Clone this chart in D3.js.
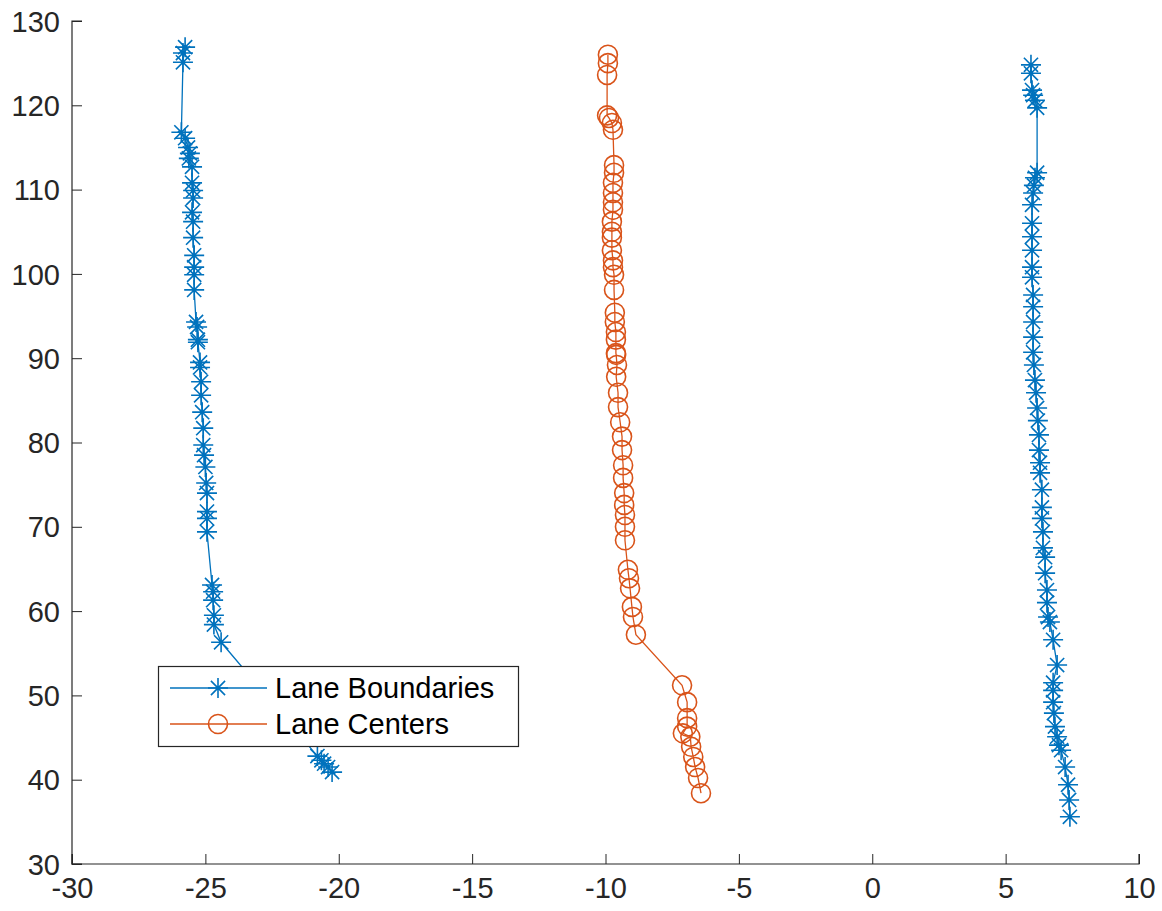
<!DOCTYPE html>
<html>
<head>
<meta charset="utf-8">
<script src="https://cdn.jsdelivr.net/npm/d3@7"></script>
<style>
  html, body { margin: 0; padding: 0; background: #fff; }
  svg { display: block; }
  text { font-family: "Liberation Sans", Arial, sans-serif; }
</style>
</head>
<body>
<svg id="chart" width="1162" height="911"></svg>
<script>
// ---- data ----
const leftBoundaryX = [-25.76, -25.84, -25.84, -25.9, -25.76, -25.65, -25.58, -25.62, -25.5, -25.5, -25.46, -25.46, -25.5, -25.46, -25.46, -25.42, -25.42, -25.42, -25.42, -25.35, -25.31, -25.28, -25.28, -25.2, -25.2, -25.16, -25.16, -25.12, -25.08, -25.08, -25.05, -25.0, -24.97, -24.94, -24.94, -24.94, -24.94, -24.75, -24.71, -24.71, -24.68, -24.68, -24.41, -20.8, -20.65, -20.55, -20.4, -20.25];
const leftBoundaryY = [126.9, 126.2, 125.1, 116.8, 116.1, 115.0, 114.3, 113.7, 112.7, 110.8, 109.9, 109.0, 107.3, 106.2, 104.3, 102.2, 100.8, 99.9, 98.1, 94.3, 93.7, 92.2, 91.9, 89.5, 88.9, 87.2, 85.6, 83.6, 81.7, 79.7, 78.5, 77.1, 75.2, 74.0, 71.8, 71.0, 69.4, 63.1, 62.3, 61.3, 59.5, 58.4, 56.3, 42.8, 42.3, 41.9, 41.5, 40.9];

const rightBoundaryX = [5.95, 5.95, 5.99, 6.03, 6.1, 6.18, 6.18, 6.1, 6.06, 6.03, 5.99, 5.99, 5.99, 5.99, 5.99, 5.99, 6.03, 6.03, 6.03, 6.03, 6.03, 6.06, 6.1, 6.14, 6.18, 6.21, 6.25, 6.25, 6.29, 6.29, 6.36, 6.36, 6.36, 6.4, 6.4, 6.48, 6.48, 6.55, 6.55, 6.59, 6.66, 6.78, 6.93, 6.78, 6.78, 6.78, 6.81, 6.85, 6.93, 7.0, 7.08, 7.23, 7.34, 7.38, 7.41];
const rightBoundaryY = [124.8, 123.8, 121.8, 121.2, 120.6, 119.7, 112.0, 111.4, 110.5, 109.6, 108.2, 106.0, 104.4, 102.8, 100.8, 99.6, 97.5, 96.1, 94.3, 92.5, 90.7, 89.2, 87.4, 85.9, 84.1, 82.6, 80.9, 79.1, 77.6, 76.4, 74.4, 72.3, 71.0, 69.4, 67.5, 66.4, 64.5, 62.5, 61.0, 59.3, 58.7, 56.6, 53.6, 51.5, 50.6, 49.2, 47.9, 46.3, 45.1, 44.1, 43.5, 41.5, 39.4, 37.6, 35.6];

const centerX = [-9.91, -9.91, -9.94, -9.94, -9.87, -9.76, -9.72, -9.68, -9.68, -9.72, -9.72, -9.72, -9.72, -9.76, -9.76, -9.76, -9.76, -9.72, -9.72, -9.68, -9.68, -9.65, -9.65, -9.61, -9.61, -9.61, -9.6, -9.57, -9.6, -9.53, -9.53, -9.45, -9.38, -9.38, -9.34, -9.34, -9.3, -9.3, -9.27, -9.27, -9.27, -9.16, -9.12, -9.08, -9.01, -8.97, -8.86, -7.13, -6.94, -6.94, -6.94, -7.1, -6.82, -6.79, -6.71, -6.64, -6.53, -6.42];
const centerY = [126.0, 125.0, 123.6, 118.8, 118.5, 117.9, 117.1, 112.9, 112.0, 110.8, 109.6, 108.5, 107.6, 106.2, 105.0, 104.3, 102.8, 101.6, 100.8, 99.9, 98.1, 95.4, 94.3, 93.1, 92.2, 90.6, 90.4, 89.2, 87.8, 85.9, 84.2, 82.4, 80.7, 79.1, 77.3, 75.8, 74.0, 72.6, 71.4, 70.0, 68.4, 64.9, 63.9, 62.7, 60.5, 59.3, 57.2, 51.2, 49.2, 47.3, 46.3, 45.5, 45.1, 43.9, 42.7, 41.5, 40.2, 38.4];

const xTicks = [-30, -25, -20, -15, -10, -5, 0, 5, 10];
const yTicks = [30, 40, 50, 60, 70, 80, 90, 100, 110, 120, 130];
const legendLabels = ["Lane Boundaries", "Lane Centers"];

// ---- layout ----
const blue = "#0072BD", orange = "#D95319", axisCol = "#262626";
const L = 72, R = 1139, T = 21, B = 864;
const FONT = "29px";
const svg = d3.select("#chart");
const x = d3.scaleLinear().domain([-30, 10]).range([L, R]);
const y = d3.scaleLinear().domain([30, 130]).range([B, T]);

// axes
const xAxis = d3.axisBottom(x).tickValues(xTicks).tickSize(-10).tickPadding(13).tickFormat(d => String(d));
const yAxis = d3.axisLeft(y).tickValues(yTicks).tickSize(-10).tickPadding(12).tickFormat(d => String(d));
const gx = svg.append("g").attr("transform", `translate(0,${B})`).call(xAxis);
const gy = svg.append("g").attr("transform", `translate(${L},0)`).call(yAxis);
[gx, gy].forEach(g => {
  g.select(".domain").attr("stroke", axisCol).attr("stroke-width", 1.2);
  g.selectAll(".tick line").attr("stroke", axisCol).attr("stroke-width", 1);
  g.selectAll(".tick text").attr("fill", axisCol).style("font-size", FONT)
    .style("font-family", "'Liberation Sans', Arial, sans-serif");
});
gx.selectAll(".tick text").attr("dy", "0.71em");
gy.selectAll(".tick text").attr("dy", "0.35em");
gx.select(".domain").attr("d", `M${L},${-10}V0H${R}V${-10}`);
gy.select(".domain").attr("d", `M10,${T}H0V${B}H10`);

// marker drawers
function star(g, cx, cy, color) {
  const r = 10, d = r * 0.7071;
  g.append("path")
    .attr("d", `M${cx - r},${cy}H${cx + r}M${cx},${cy - r}V${cy + r}M${cx - d},${cy - d}L${cx + d},${cy + d}M${cx - d},${cy + d}L${cx + d},${cy - d}`)
    .attr("stroke", color).attr("stroke-width", 1.6).attr("fill", "none");
}
function circ(g, cx, cy, color) {
  g.append("circle").attr("cx", cx).attr("cy", cy).attr("r", 9.5)
    .attr("stroke", color).attr("stroke-width", 1.6).attr("fill", "none");
}

const line = d3.line().x(d => x(d[0])).y(d => y(d[1]));
const plot = svg.append("g");

function series(xs, ys, color, marker) {
  const pts = xs.map((v, i) => [v, ys[i]]);
  plot.append("path").datum(pts).attr("d", line).attr("fill", "none")
    .attr("stroke", color).attr("stroke-width", 1.3);
  const mg = plot.append("g");
  pts.forEach(p => marker(mg, x(p[0]), y(p[1]), color));
}
series(leftBoundaryX, leftBoundaryY, blue, star);
series(rightBoundaryX, rightBoundaryY, blue, star);
series(centerX, centerY, orange, circ);

// legend
const lg = svg.append("g");
lg.append("rect").attr("x", 158.5).attr("y", 666.5).attr("width", 360).attr("height", 80)
  .attr("fill", "#fff").attr("stroke", axisCol).attr("stroke-width", 1.2);
const rows = [{c: blue, m: star, yy: 688}, {c: orange, m: circ, yy: 724}];
rows.forEach((r, i) => {
  lg.append("line").attr("x1", 170).attr("x2", 267).attr("y1", r.yy).attr("y2", r.yy)
    .attr("stroke", r.c).attr("stroke-width", 1.3);
  r.m(lg, 218, r.yy, r.c);
  lg.append("text").attr("x", 275).attr("y", r.yy).attr("dy", "0.35em")
    .style("font-size", FONT).attr("fill", "#000").text(legendLabels[i]);
});
</script>
</body>
</html>
